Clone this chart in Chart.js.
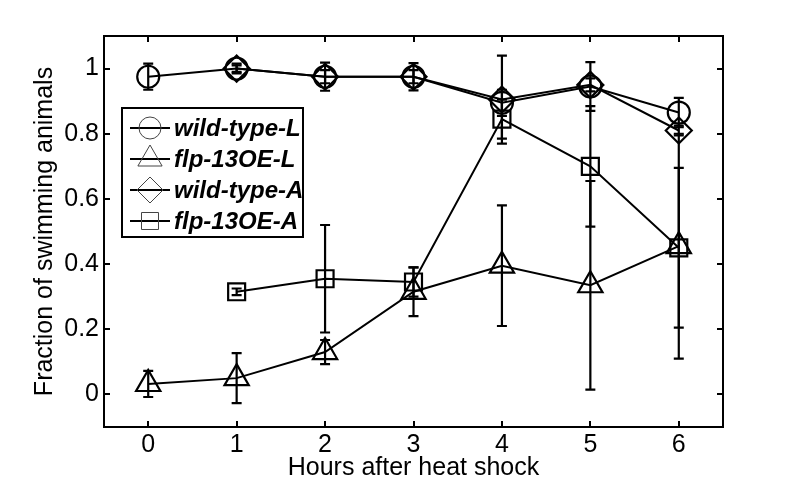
<!DOCTYPE html>
<html>
<head>
<meta charset="utf-8">
<script src="https://cdn.jsdelivr.net/npm/chart.js@4/dist/chart.umd.min.js"></script>
<style>
  html, body { margin: 0; padding: 0; background: #ffffff; }
  canvas { display: block; }
</style>
</head>
<body>
<canvas id="c" width="800" height="487"></canvas>
<script>
// ---- data ----
const hours = [0, 1, 2, 3, 4, 5, 6];
const xTicks = [0, 1, 2, 3, 4, 5, 6];
const yTicks = [0, 0.2, 0.4, 0.6, 0.8, 1];

const wildTypeL    = [0.975, 1.0, 0.975, 0.975, 0.895, 0.945, 0.865];
const wildTypeLErr = [0.04, 0.01, 0.043, 0.042, 0.04, 0.075, 0.045];

const flpL    = [0.032, 0.05, 0.13, 0.315, 0.395, 0.335, 0.455];
const flpLErr = [0.04, 0.077, 0.037, 0.075, 0.185, 0.32, 0.345];

const wildTypeA    = [null, 1.0, 0.975, 0.975, 0.905, 0.95, 0.81];
const wildTypeAErr = [null, 0.015, 0.02, 0.02, 0.135, 0.02, 0.015];

const flpA    = [null, 0.315, 0.355, 0.345, 0.845, 0.70, 0.45];
const flpAErr = [null, 0.01, 0.165, 0.045, 0.06, 0.185, 0.245];

const seriesLabels = ['wild-type-L', 'flp-13OE-L', 'wild-type-A', 'flp-13OE-A'];

function pts(vals, errs) {
  const out = [];
  hours.forEach((h, i) => {
    if (vals[i] !== null) out.push({ x: h, y: vals[i], err: errs[i] });
  });
  return out;
}

const FONT = "'Liberation Sans', Arial, Helvetica, sans-serif";
Chart.defaults.font.family = FONT;
Chart.defaults.color = '#000';

function ds(label, vals, errs, style, radius) {
  return {
    label: label,
    data: pts(vals, errs),
    borderColor: '#000',
    borderWidth: 2,
    pointStyle: style,
    pointRadius: radius,
    pointHoverRadius: radius,
    pointBorderColor: '#000',
    pointBackgroundColor: 'rgba(0,0,0,0)',
    pointBorderWidth: 2.2,
    fill: false,
    tension: 0
  };
}

const errorBarPlugin = {
  id: 'errorBars',
  beforeDatasetsDraw(chart) {
    const ctx = chart.ctx;
    const xs = chart.scales.x, ys = chart.scales.y;
    ctx.save();
    ctx.strokeStyle = '#000';
    ctx.lineWidth = 2.2;
    chart.data.datasets.forEach(d => {
      d.data.forEach(p => {
        if (p.err == null) return;
        const px = xs.getPixelForValue(p.x);
        const y1 = ys.getPixelForValue(p.y + p.err);
        const y2 = ys.getPixelForValue(p.y - p.err);
        const cw = 5;
        ctx.beginPath();
        ctx.moveTo(px, y1); ctx.lineTo(px, y2);
        ctx.moveTo(px - cw, y1); ctx.lineTo(px + cw, y1);
        ctx.moveTo(px - cw, y2); ctx.lineTo(px + cw, y2);
        ctx.stroke();
      });
    });
    ctx.restore();
  }
};

const framePlugin = {
  id: 'frame',
  afterDraw(chart) {
    const ctx = chart.ctx;
    const a = chart.chartArea;
    const xs = chart.scales.x, ys = chart.scales.y;
    ctx.save();
    ctx.strokeStyle = '#000';
    ctx.lineWidth = 2;
    ctx.strokeRect(a.left, a.top, a.right - a.left, a.bottom - a.top);
    const tl = 6;
    ctx.beginPath();
    xs.ticks.forEach(t => {
      const px = Math.round(xs.getPixelForValue(t.value));
      ctx.moveTo(px, a.bottom); ctx.lineTo(px, a.bottom - tl);
      ctx.moveTo(px, a.top); ctx.lineTo(px, a.top + tl);
    });
    ys.ticks.forEach(t => {
      const py = Math.round(ys.getPixelForValue(t.value));
      ctx.moveTo(a.left, py); ctx.lineTo(a.left + tl, py);
      ctx.moveTo(a.right, py); ctx.lineTo(a.right - tl, py);
    });
    ctx.stroke();

    // legend
    const lx = 122, ly = 108, lw = 181, lh = 129;
    ctx.fillStyle = '#fff';
    ctx.fillRect(lx, ly, lw, lh);
    ctx.strokeStyle = '#000';
    ctx.lineWidth = 2;
    ctx.strokeRect(lx, ly, lw, lh);
    ctx.font = "italic bold 24px " + FONT;
    ctx.textBaseline = 'middle';
    ctx.textAlign = 'left';
    chart.data.datasets.forEach((d, i) => {
      const cy = ly + 20 + i * 31;
      ctx.strokeStyle = '#000';
      ctx.lineWidth = 2;
      ctx.beginPath();
      ctx.moveTo(lx + 8, cy); ctx.lineTo(lx + 48, cy);
      ctx.stroke();
      ctx.strokeStyle = '#444';
      ctx.fillStyle = 'rgba(0,0,0,0)';
      ctx.lineWidth = 1;
      Chart.helpers.drawPoint(ctx, {
        pointStyle: d.pointStyle,
        radius: d.pointRadius,
        borderWidth: 1,
        rotation: 0
      }, lx + 28, cy);
      ctx.fillStyle = '#000';
      ctx.fillText(d.label, lx + 52, cy + 1);
    });
    ctx.restore();
  }
};

new Chart(document.getElementById('c'), {
  type: 'line',
  data: {
    datasets: [
      ds(seriesLabels[0], wildTypeL, wildTypeLErr, 'circle', 11),
      ds(seriesLabels[1], flpL, flpLErr, 'triangle', 14),
      ds(seriesLabels[2], wildTypeA, wildTypeAErr, 'rectRot', 13),
      ds(seriesLabels[3], flpA, flpAErr, 'rect', 12)
    ]
  },
  options: {
    responsive: false,
    animation: false,
    events: [],
    layout: { padding: { left: 0, right: 77, top: 36, bottom: 0 } },
    plugins: { legend: { display: false }, tooltip: { enabled: false } },
    scales: {
      x: {
        type: 'linear',
        min: -0.5, max: 6.5,
        afterBuildTicks: s => { s.ticks = xTicks.map(v => ({ value: v })); },
        afterFit: s => { s.height = 60; },
        grid: { display: false, drawTicks: false },
        border: { display: false },
        ticks: { font: { size: 25 }, padding: 3, color: '#000', maxRotation: 0,
                 callback: v => String(v) },
        title: { display: true, text: 'Hours after heat shock', font: { size: 25 },
                 color: '#000', padding: { top: 0, bottom: 4 } }
      },
      y: {
        type: 'linear',
        min: -0.1, max: 1.1,
        afterBuildTicks: s => { s.ticks = yTicks.map(v => ({ value: v })); },
        afterFit: s => { s.width = 104; },
        grid: { display: false, drawTicks: false },
        border: { display: false },
        ticks: { font: { size: 25 }, padding: 5, color: '#000',
                 callback: v => String(Math.round(v * 10) / 10) },
        title: { display: true, text: 'Fraction of swimming animals', font: { size: 25 },
                 color: '#000', padding: { top: 30, bottom: 0 } }
      }
    }
  },
  plugins: [errorBarPlugin, framePlugin]
});
</script>
</body>
</html>
